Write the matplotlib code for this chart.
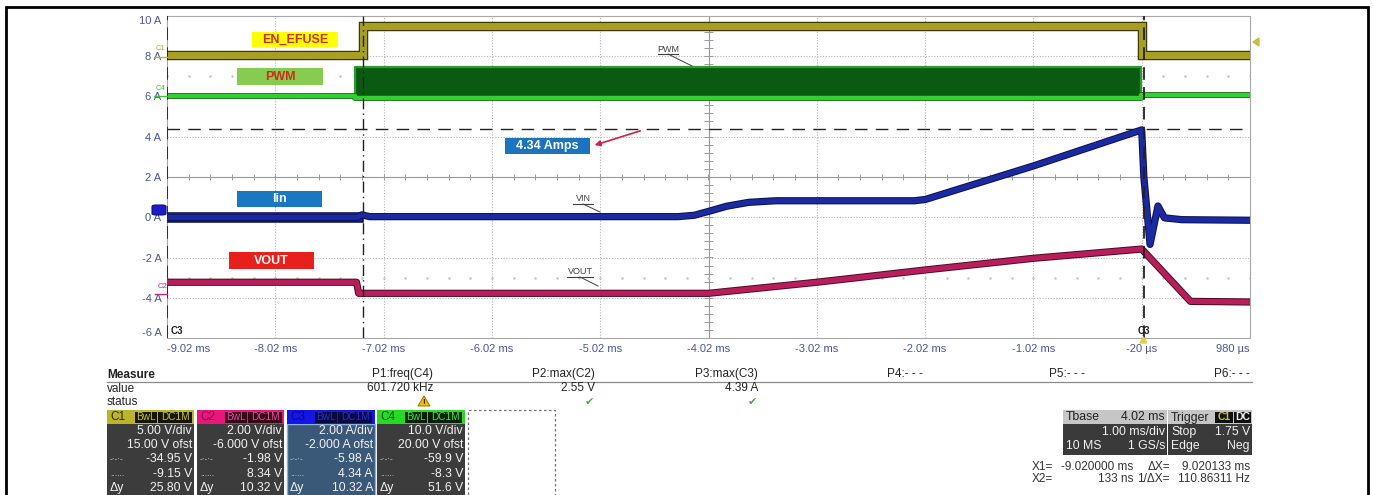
import numpy as np
import matplotlib
matplotlib.use('Agg')
from matplotlib import pyplot as plt
from matplotlib.patches import Rectangle, FancyBboxPatch, FancyArrowPatch, Polygon
from matplotlib.lines import Line2D
import matplotlib.patheffects as pe

plt.rcParams['font.family'] = ['Liberation Sans', 'DejaVu Sans']

W, H = 1373, 495

# ---- traces, time in ms, level in screen amps ----
en_t = [-9.02, -7.21, -7.21, -0.02, -0.02, 0.98]
en_v = [8.07, 8.07, 9.48, 9.48, 8.07, 8.07]

pwm_t = [-9.02, -7.28, -7.28, -0.03, -0.03, 0.98]
pwm_lo = [6.03, 6.03, 5.93, 5.93, 6.05, 6.05]
pwm_hi = [6.03, 6.03, 7.47, 7.47, 6.05, 6.05]

iin_t = [-9.02, -7.26, -7.22, -7.15, -4.30, -4.15, -4.00, -3.85, -3.65, -3.40,
         -2.12, -2.02, -1.02, -0.02, 0.00, 0.057, 0.13, 0.19, 0.35, 0.98]
iin_v = [0.00, 0.00, 0.12, 0.03, 0.03, 0.10, 0.32, 0.55, 0.74, 0.82,
         0.82, 0.88, 2.55, 4.34, 2.00, -1.35, 0.56, -0.03, -0.12, -0.15]

vout_t = [-9.02, -7.27, -7.25, -4.02, -3.02, -2.02, -1.02, -0.02, 0.43, 0.98]
vout_v = [-3.23, -3.23, -3.78, -3.78, -3.23, -2.62, -2.04, -1.58, -4.18, -4.21]

cursor_amps = 4.38
marker_times = [-7.21]
cursor_times = [-9.02, 0.000133]

xticks = [-9.02, -8.02, -7.02, -6.02, -5.02, -4.02, -3.02, -2.02, -1.02, -0.02, 0.98]
xlabels = ['-9.02 ms', '-8.02 ms', '-7.02 ms', '-6.02 ms', '-5.02 ms', '-4.02 ms',
           '-3.02 ms', '-2.02 ms', '-1.02 ms', '-20 µs', '980 µs']
yticks = [10, 8, 6, 4, 2, 0, -2, -4, -6]
ylabels = ['10 A', '8 A', '6 A', '4 A', '2 A', '0 A', '-2 A', '-4 A', '-6 A']

# ---- bottom panel data ----
meas_names = ['P1:freq(C4)', 'P2:max(C2)', 'P3:max(C3)', 'P4:- - -', 'P5:- - -', 'P6:- - -']
meas_vals = ['601.720 kHz', '2.55 V', '4.39 A', '', '', '']
meas_status = ['warn', 'ok', 'ok', '', '', '']

ch_names = ['C1', 'C2', 'C3', 'C4']
ch_vdiv = ['5.00 V/div', '2.00 V/div', '2.00 A/div', '10.0 V/div']
ch_ofst = ['15.00 V ofst', '-6.000 V ofst', '-2.000 A ofst', '20.00 V ofst']
ch_cur1 = ['-34.95 V', '-1.98 V', '-5.98 A', '-59.9 V']
ch_cur2 = ['-9.15 V', '8.34 V', '4.34 A', '-8.3 V']
ch_dy = ['25.80 V', '10.32 V', '10.32 A', '51.6 V']


def fx(x):
    return x / W


def fy(y):
    return 1 - y / H


def ftxt(x, y, s, **kw):
    kw.setdefault('va', 'center')
    return fig.text(fx(x), fy(y), s, **kw)


def frect(x0, y0, x1, y1, **kw):
    r = Rectangle((fx(x0), fy(y1)), (x1 - x0) / W, (y1 - y0) / H,
                  transform=fig.transFigure, **kw)
    fig.add_artist(r)
    return r


def fline(xs, ys, **kw):
    fig.add_artist(Line2D([fx(v) for v in xs], [fy(v) for v in ys],
                          transform=fig.transFigure, **kw))


fig = plt.figure(figsize=(W / 100, H / 100), dpi=100)
fig.patch.set_facecolor('white')

ax = fig.add_axes([fx(167), fy(338), (1250 - 167) / W, (338 - 16) / H])
ax.set_xlim(-9.02, 0.98)
ax.set_ylim(-6, 10)
for s in ax.spines.values():
    s.set_color('#a8a8a8')
    s.set_linewidth(0.8)

ax.set_xticks(xticks)
ax.set_xticklabels(xlabels)
ax.set_yticks(yticks)
ax.set_yticklabels(ylabels)
ax.tick_params(length=0, labelsize=8, colors='#46559a', pad=4)
xl = ax.get_xticklabels()
xl[0].set_ha('left')
xl[-1].set_ha('right')
yl = ax.get_yticklabels()
yl[0].set_va('top')
yl[-1].set_va('bottom')

# grid
for t in xticks[1:-1]:
    ax.axvline(t, color='#b4b4b4', lw=0.8, ls=(0, (1, 1.5)), zorder=0)
for v in yticks[1:-1]:
    ax.axhline(v, color='#b4b4b4', lw=0.8, ls=(0, (1, 1.5)), zorder=0)

# center axes with minor ticks
ax.axvline(-4.02, color='#9a9a9a', lw=0.8, zorder=0)
ax.axhline(2, color='#9a9a9a', lw=0.8, zorder=0)
mt = np.arange(-9.02, 0.99, 0.2)
ax.vlines(mt, 1.85, 2.15, color='#9a9a9a', lw=0.7, zorder=0)
mv = np.arange(-6, 10.01, 0.4)
ax.hlines(mv, -4.02 - 0.045, -4.02 + 0.045, color='#9a9a9a', lw=0.7, zorder=0)
for lev in (7, -3):
    ax.plot(mt, [lev] * len(mt), ls='none', marker='.', ms=1.6, color='#c4c4c4', zorder=0)

# cursors
ax.axhline(cursor_amps, color='#222222', lw=1.0, ls=(0, (9, 6)), zorder=1)
for t in marker_times:
    ax.axvline(t, color='#222222', lw=1.0, ls=(0, (8, 3, 1, 3)), zorder=6)
for t in cursor_times:
    ax.axvline(t, color='#222222', lw=1.3, ls=(0, (7, 4)), zorder=6)

# PWM band
ax.fill_between(pwm_t, pwm_lo, pwm_hi, color='#0b5a12', lw=0, zorder=2)
ax.plot(pwm_t, pwm_hi, color='#2f9a2f', lw=1.6, zorder=3)
ax.plot(pwm_t, pwm_lo, color='#2fd02f', lw=3.0, zorder=3,
        path_effects=[pe.Stroke(linewidth=4.2, foreground='#1a6a1a'), pe.Normal()])

# EN_EFUSE
ax.plot(en_t, en_v, color='#a89f22', lw=5.0, zorder=3, solid_joinstyle='miter',
        path_effects=[pe.Stroke(linewidth=6.8, foreground='#3e3a08'), pe.Normal()])

# Iin
ax.plot(iin_t[:2], iin_v[:2], color='#1c2aa0', lw=6.0, zorder=4,
        path_effects=[pe.Stroke(linewidth=7.6, foreground='#0a0f55'), pe.Normal()])
ax.plot(iin_t, iin_v, color='#1c2aa0', lw=3.8, zorder=4,
        path_effects=[pe.Stroke(linewidth=5.2, foreground='#0a0f55'), pe.Normal()])

# VOUT
ax.plot(vout_t, vout_v, color='#b81e5c', lw=3.8, zorder=4,
        path_effects=[pe.Stroke(linewidth=5.2, foreground='#4a0c22'), pe.Normal()])

# ---- labels in the trace area ----
def label_box(x0, y0, x1, y1, text, fc, tc):
    frect(x0, y0, x1, y1, facecolor=fc, edgecolor='none', zorder=10)
    ftxt((x0 + x1) / 2, (y0 + y1) / 2 + 0.5, text, ha='center', color=tc,
         fontsize=9, fontweight='bold', zorder=11)


label_box(252, 32, 338, 47, 'EN_EFUSE', '#ffff00', '#c8321e')
label_box(237, 68, 323, 85, 'PWM', '#86cc50', '#d02c1c')
label_box(237, 191, 322, 207, 'Iin', '#1a78c2', 'white')
label_box(229, 252, 314, 269, 'VOUT', '#e8201c', 'white')
label_box(505, 138, 590, 154, '4.34 Amps', '#1a74c0', 'white')
fig.add_artist(FancyArrowPatch((fx(643), fy(130)), (fx(592), fy(146)),
                               transform=fig.transFigure, arrowstyle='-|>',
                               mutation_scale=8, color='#d0204a', lw=1.2, zorder=11))

# small underlined trace names
for tx, ty, s, lx, ly in [(668, 49, 'PWM', 692, 66), (583, 199, 'VIN', 600, 212),
                          (580, 272, 'VOUT', 598, 286)]:
    t = ftxt(tx, ty, s, ha='center', fontsize=6.5, color='#404040', zorder=11)
    hw = 5.5 * len(s) / 2 + 2
    fline([tx - hw, tx + hw], [ty + 5, ty + 5], color='#404040', lw=0.8)
    fline([tx, lx], [ty + 5, ly], color='#404040', lw=0.7)

# channel markers at the left
ftxt(161, 49, 'C1', ha='center', fontsize=5.5, color='#b8b030')
fline([154, 167], [57, 57], color='#b8b030', lw=1.0)
ftxt(161, 89, 'C4', ha='center', fontsize=5.5, color='#40c040')
fline([154, 167], [96, 96], color='#40c040', lw=1.0)
ftxt(162, 287, 'C2', ha='center', fontsize=5.5, color='#d0208a')
fline([155, 167], [294, 294], color='#d0208a', lw=1.0)
fig.add_artist(FancyBboxPatch((fx(152), fy(215)), 14 / W, 10 / H,
                              boxstyle='round,pad=0,rounding_size=0.003',
                              transform=fig.transFigure, facecolor='#1c1cc8',
                              edgecolor='#10107a', lw=0.8, zorder=12))
ftxt(177, 331, 'C3', ha='center', fontsize=7, fontweight='bold', color='#202020', zorder=12)
ftxt(1144, 331, 'C3', ha='center', fontsize=7, fontweight='bold', color='#202020', zorder=12)
fig.add_artist(Polygon([(fx(1140), fy(343)), (fx(1147), fy(343)), (fx(1143.5), fy(337))],
                       closed=True, transform=fig.transFigure, color='#e0d040', zorder=12))
fig.add_artist(Polygon([(fx(1253), fy(42)), (fx(1259), fy(38)), (fx(1259), fy(46))],
                       closed=True, transform=fig.transFigure, color='#c8c040', zorder=12))

# ---- measure table ----
FS = 8.5
ftxt(107, 375, 'Measure', ha='left', fontsize=FS, fontweight='bold', color='#222222')
ftxt(107, 389, 'value', ha='left', fontsize=FS, color='#222222')
ftxt(107, 402, 'status', ha='left', fontsize=FS, color='#222222')
fline([107, 1252], [381.5, 381.5], color='#8a8a8a', lw=0.9)
meas_right = [433, 595, 758, 923, 1085, 1250]
for xr, n, v, st in zip(meas_right, meas_names, meas_vals, meas_status):
    ftxt(xr, 374, n, ha='right', fontsize=FS, color='#222222')
    if v:
        ftxt(xr, 388, v, ha='right', fontsize=FS, color='#222222')
    if st == 'warn':
        fig.add_artist(Polygon([(fx(xr - 15), fy(406)), (fx(xr - 3), fy(406)),
                                (fx(xr - 9), fy(396))], closed=True,
                               transform=fig.transFigure, facecolor='#f0c000',
                               edgecolor='#a07000', lw=0.7))
        ftxt(xr - 9, 402, '!', ha='center', fontsize=6, color='#402000',
             fontweight='bold')
    elif st == 'ok':
        ftxt(xr - 6, 402, '✔', ha='center', fontsize=8, color='#46b030',
             family='DejaVu Sans')

# ---- channel boxes ----
box_left = [107, 197, 287, 377]
box_w = [87, 87, 88, 88]
head_col = ['#bdb42a', '#e8167e', '#1616e4', '#24dc24']
head_txt = ['#2a2a08', '#8a0a40', '#0a0a80', '#105010']
tag_col = ['#c8c040', '#e0509a', '#2a2ad0', '#40e040']
tag_bg = ['#151505', '#3a0718', '#0a0a40', '#082008']
body_col = ['#3c3c3c', '#3c3c3c', '#3a5878', '#3c3c3c']
rows_y = [431, 445, 459.5, 474, 488]
for i in range(4):
    x0 = box_left[i]
    x1 = x0 + box_w[i]
    frect(x0, 424, x1, 498, facecolor=body_col[i],
          edgecolor='#8ab0e0' if i == 2 else 'none', lw=1.0, zorder=5)
    frect(x0, 410, x1, 424, facecolor=head_col[i], edgecolor='none', zorder=6)
    ftxt(x0 + 3, 417.5, ch_names[i], ha='left', fontsize=8.5, color=head_txt[i], zorder=7)
    for bx0, bx1, s in [(28, 50, 'BwL'), (51, 85, 'DC1M')]:
        frect(x0 + bx0, 411.5, x0 + bx1, 423, facecolor=tag_bg[i], edgecolor='none', zorder=7)
        ftxt(x0 + (bx0 + bx1) / 2, 417.5, s, ha='center', fontsize=7.2,
             color=tag_col[i], zorder=8)
    vals = [ch_vdiv[i], ch_ofst[i], ch_cur1[i], ch_cur2[i], ch_dy[i]]
    for ry, s in zip(rows_y, vals):
        ftxt(x1 - 2, ry, s, ha='right', fontsize=8.8, color='#f2f2f2', zorder=8)
    ftxt(x0 + 3, rows_y[2], '-·-·-', ha='left', fontsize=6, color='#e0e0e0', zorder=8)
    ftxt(x0 + 3, rows_y[3], '......', ha='left', fontsize=6, color='#e0e0e0', zorder=8)
    ftxt(x0 + 3, rows_y[4], 'Δy', ha='left', fontsize=8.8, color='#f2f2f2', zorder=8)

frect(468, 410, 555, 498, facecolor='none', edgecolor='#707070', lw=0.9,
      ls=(0, (2, 2)), zorder=5)

# ---- timebase / trigger ----
frect(1063, 424, 1167, 455, facecolor='#3a3a3a', edgecolor='none', zorder=5)
frect(1063, 410, 1167, 424, facecolor='#c6c6c6', edgecolor='none', zorder=6)
ftxt(1066, 417.5, 'Tbase', ha='left', fontsize=8.8, color='#202020', zorder=7)
ftxt(1165, 417.5, '4.02 ms', ha='right', fontsize=8.8, color='#202020', zorder=7)
ftxt(1165, 432, '1.00 ms/div', ha='right', fontsize=8.8, color='#f2f2f2', zorder=7)
ftxt(1066, 446, '10 MS', ha='left', fontsize=8.8, color='#f2f2f2', zorder=7)
ftxt(1165, 446, '1 GS/s', ha='right', fontsize=8.8, color='#f2f2f2', zorder=7)

frect(1168, 424, 1252, 455, facecolor='#3a3a3a', edgecolor='none', zorder=5)
frect(1168, 410, 1252, 424, facecolor='#c6c6c6', edgecolor='none', zorder=6)
ftxt(1171, 417.5, 'Trigger', ha='left', fontsize=8.8, color='#202020', zorder=7)
frect(1215, 411.5, 1233, 423, facecolor='#101010', edgecolor='none', zorder=7)
ftxt(1224, 417.5, 'C1', ha='center', fontsize=7.5, color='#c8c040', fontweight='bold', zorder=8)
frect(1234, 411.5, 1251, 423, facecolor='#101010', edgecolor='none', zorder=7)
ftxt(1242.5, 417.5, 'DC', ha='center', fontsize=7.5, color='#f0f0f0', fontweight='bold', zorder=8)
ftxt(1171, 432, 'Stop', ha='left', fontsize=8.8, color='#f2f2f2', zorder=7)
ftxt(1250, 432, '1.75 V', ha='right', fontsize=8.8, color='#f2f2f2', zorder=7)
ftxt(1171, 446, 'Edge', ha='left', fontsize=8.8, color='#f2f2f2', zorder=7)
ftxt(1250, 446, 'Neg', ha='right', fontsize=8.8, color='#f2f2f2', zorder=7)

for ry, a, b, c, d in [(467, 'X1=', '-9.020000 ms', 'ΔX=', '9.020133 ms'),
                       (479, 'X2=', '133 ns', '1/ΔX=', '110.86311 Hz')]:
    ftxt(1032, ry, a, ha='left', fontsize=8.5, color='#333333')
    ftxt(1133, ry, b, ha='right', fontsize=8.5, color='#333333')
    ftxt(1170, ry, c, ha='right', fontsize=8.5, color='#333333')
    ftxt(1250, ry, d, ha='right', fontsize=8.5, color='#333333')

# outer frame
frect(6, 7, 1368, 505, facecolor='none', edgecolor='black', lw=2.0, zorder=20)

fig.savefig('out.png', dpi=100, facecolor='white')
